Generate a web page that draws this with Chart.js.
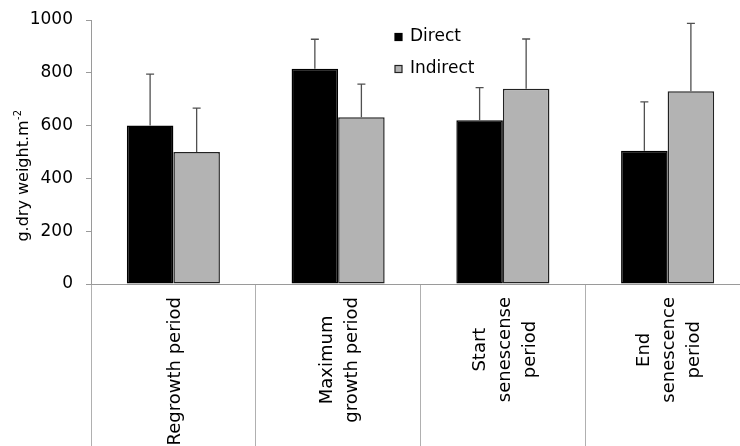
<!DOCTYPE html>
<html>
<head>
<meta charset="utf-8">
<script src="https://cdn.jsdelivr.net/npm/chart.js@4.4.1/dist/chart.umd.min.js"></script>
<style>
  html, body { margin: 0; padding: 0; background: #fff; overflow: hidden; }
  #wrap { width: 750px; height: 446px; }
</style>
</head>
<body>
<div id="wrap"><canvas id="chart"></canvas></div>
<script>
const categories = [
  ['Regrowth period'],
  ['Maximum', 'growth period'],
  ['Start', 'senescense', 'period'],
  ['End', 'senescence', 'period']
];
const directValues = [600, 815, 620, 505];
const directErrors = [195, 112, 124, 185];
const indirectValues = [500, 632, 740, 730];
const indirectErrors = [166, 125, 188, 257];
const yTicks = [0, 200, 400, 600, 800, 1000];
const seriesNames = ['Direct', 'Indirect'];

const FONT = "'DejaVu Sans', sans-serif";
const AXIS_GREY = '#9a9a9a';

// error bars: only the upper half, with a small cap
const errorBars = {
  id: 'errorBars',
  afterDatasetsDraw(chart) {
    const ctx = chart.ctx;
    const yScale = chart.scales.y;
    const errorSets = [directErrors, indirectErrors];
    ctx.save();
    ctx.strokeStyle = '#505050';
    ctx.lineWidth = 1.3;
    chart.data.datasets.forEach((ds, di) => {
      chart.getDatasetMeta(di).data.forEach((bar, i) => {
        const top = yScale.getPixelForValue(ds.data[i] + errorSets[di][i]);
        ctx.beginPath();
        ctx.moveTo(bar.x, bar.y);
        ctx.lineTo(bar.x, top);
        ctx.moveTo(bar.x - 4, top);
        ctx.lineTo(bar.x + 4, top);
        ctx.stroke();
      });
    });
    ctx.restore();
  }
};

// rotated, centred multi-line category labels, y title and the legend
const decorations = {
  id: 'decorations',
  afterDraw(chart) {
    const ctx = chart.ctx;
    const xScale = chart.scales.x;
    ctx.save();
    ctx.fillStyle = '#000';

    // category labels
    ctx.font = '18px ' + FONT;
    ctx.textAlign = 'center';
    ctx.textBaseline = 'middle';
    const lineH = 25;
    categories.forEach((lines, i) => {
      const cx = xScale.getPixelForValue(i) + 2;
      const longest = Math.max(...lines.map(l => ctx.measureText(l).width));
      const cy = xScale.top + 13 + longest / 2;
      ctx.save();
      ctx.translate(cx, cy);
      ctx.rotate(-Math.PI / 2);
      lines.forEach((line, k) => {
        ctx.fillText(line, 0, (k - (lines.length - 1) / 2) * lineH);
      });
      ctx.restore();
    });

    // y axis title with superscript
    ctx.save();
    ctx.translate(24, 176);
    ctx.rotate(-Math.PI / 2);
    ctx.font = '16px ' + FONT;
    const main = 'g.dry weight.m';
    const mainW = ctx.measureText(main).width;
    ctx.font = '10px ' + FONT;
    const sup = '-2';
    const supW = ctx.measureText(sup).width;
    const start = -(mainW + supW) / 2;
    ctx.textAlign = 'left';
    ctx.font = '16px ' + FONT;
    ctx.fillText(main, start, 0);
    ctx.font = '10px ' + FONT;
    ctx.fillText(sup, start + mainW + 0.5, -6);
    ctx.restore();

    // legend
    ctx.font = '17px ' + FONT;
    ctx.textAlign = 'left';
    ctx.textBaseline = 'middle';
    const legendX = 395;
    const legendY = [37, 69];
    chart.data.datasets.forEach((ds, di) => {
      const y = legendY[di];
      ctx.fillStyle = ds.backgroundColor;
      ctx.fillRect(legendX, y - 3.5, 7, 7);
      ctx.strokeStyle = ds.borderColor;
      ctx.lineWidth = 1.2;
      ctx.strokeRect(legendX, y - 3.5, 7, 7);
      ctx.fillStyle = '#000';
      ctx.fillText(seriesNames[di], legendX + 15, y);
    });
    ctx.restore();
  }
};

new Chart(document.getElementById('chart'), {
  type: 'bar',
  data: {
    labels: categories.map(c => c.join(' ')),
    datasets: [
      {
        label: seriesNames[0],
        data: directValues,
        backgroundColor: '#000000',
        borderColor: '#000000',
        borderWidth: 1.5,
        borderSkipped: false
      },
      {
        label: seriesNames[1],
        data: indirectValues,
        backgroundColor: '#b3b3b3',
        borderColor: '#222222',
        borderWidth: 1.5,
        borderSkipped: false
      }
    ]
  },
  options: {
    responsive: true,
    maintainAspectRatio: false,
    animation: false,
    layout: { padding: { top: 20, left: 0, right: 0, bottom: 0 } },
    datasets: {
      bar: { categoryPercentage: 0.565, barPercentage: 1.0 }
    },
    plugins: {
      legend: { display: false },
      tooltip: { enabled: false }
    },
    scales: {
      x: {
        offset: true,
        grid: {
          offset: true,
          drawOnChartArea: false,
          drawTicks: true,
          tickLength: 165,
          color: '#b0b0b0',
          lineWidth: 1
        },
        border: { display: true, color: AXIS_GREY, width: 1 },
        ticks: { display: false },
        afterFit(scale) { scale.height = 162; }
      },
      y: {
        min: 0,
        max: 1000,
        afterBuildTicks(scale) {
          scale.ticks = yTicks.map(v => ({ value: v }));
        },
        grid: {
          drawOnChartArea: false,
          drawTicks: true,
          tickLength: 5,
          color: AXIS_GREY
        },
        border: { display: true, color: AXIS_GREY, width: 1 },
        ticks: {
          color: '#000',
          padding: 13,
          font: { family: FONT, size: 17 },
          callback: v => String(v)
        },
        afterFit(scale) {
          scale.width = 91;
          scale.paddingTop = 0;
          scale.paddingBottom = 0;
        }
      }
    }
  },
  plugins: [errorBars, decorations]
});
</script>
</body>
</html>
